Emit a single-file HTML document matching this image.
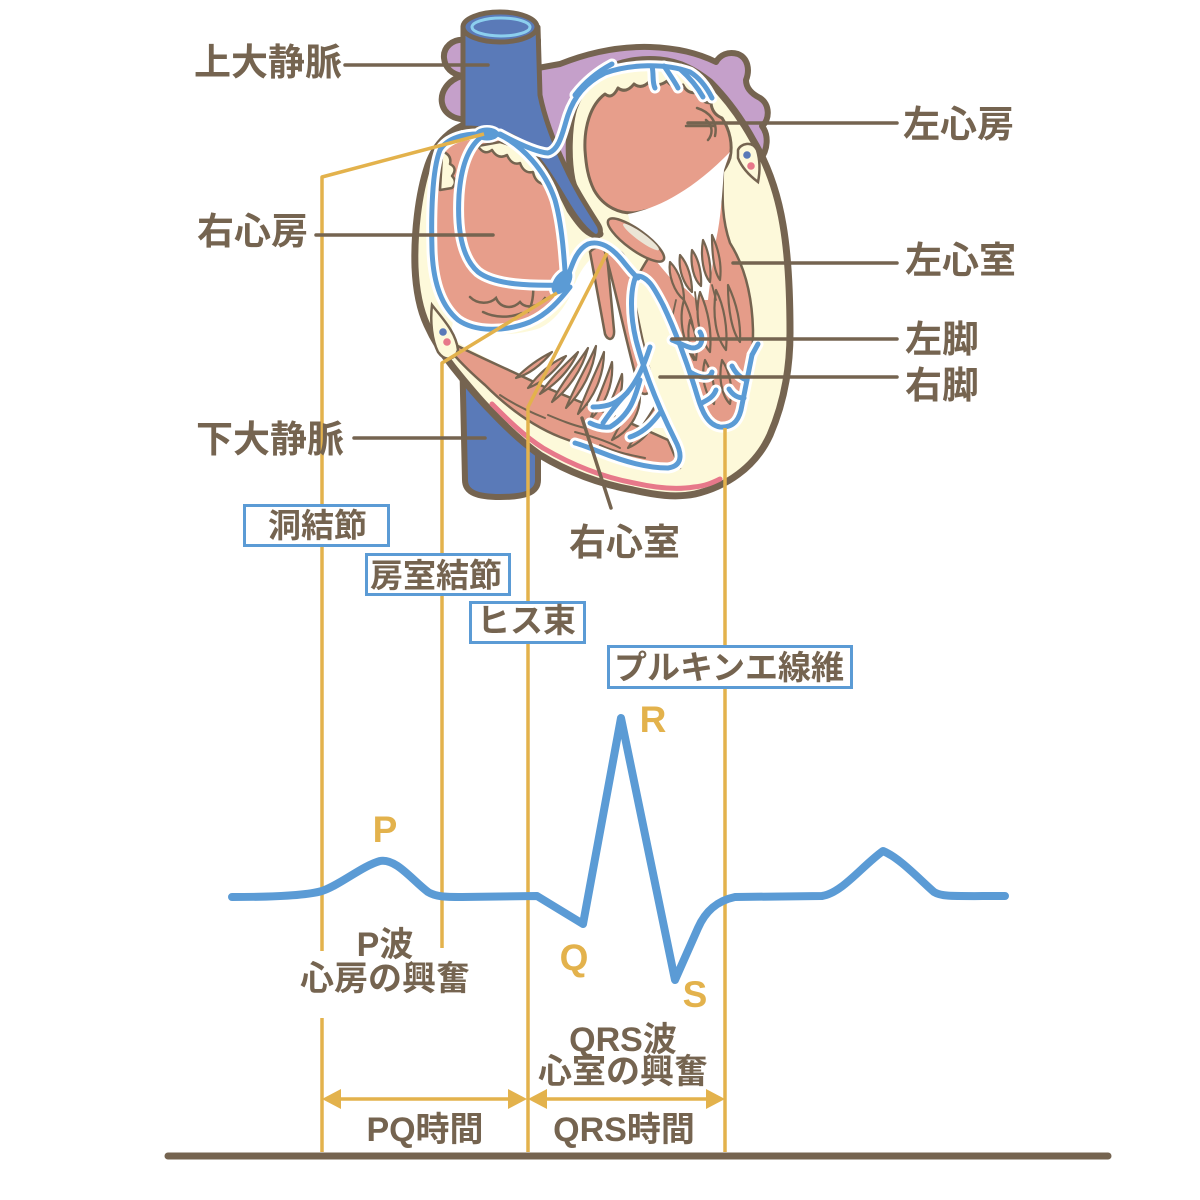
<!DOCTYPE html>
<html><head><meta charset="utf-8">
<style>
html,body{margin:0;padding:0;background:#fff;}
svg{display:block;}
text{font-family:"Liberation Sans","Noto Sans CJK JP",sans-serif;font-weight:700;}
.lbl{font-size:37px;fill:#756450;}
.box{font-size:33px;fill:#756450;}
.ecg{font-size:34px;fill:#756450;}
.ltr{font-size:37px;fill:#e3b24c;}
</style></head>
<body>
<svg width="1200" height="1200" viewBox="0 0 1200 1200" xmlns="http://www.w3.org/2000/svg">
<rect width="1200" height="1200" fill="#fff"/>

<!-- purple back -->
<path d="M466,40 C452,38 443,48 444,58 C445,68 452,74 462,76 C448,80 440,92 442,103 C444,114 455,120 466,119 L470,125 L540,150 L600,236 L760,160 C768,150 769,135 762,126 C770,120 770,104 760,98 C752,94 746,88 746,80 C750,70 748,58 738,54 C728,51 720,55 716,62 C700,54 680,48 650,47 C615,46 585,54 560,64 L538,68 L538,40 Z" fill="#c5a0ca" stroke="#756450" stroke-width="6" stroke-linejoin="round"/>

<!-- IVC -->
<path d="M462,350 L465,480 C465,493 478,497 500,497 C524,497 538,493 538,480 L538,410 Z" fill="#5a7ab8" stroke="#756450" stroke-width="6" stroke-linejoin="round"/>

<!-- heart body -->
<path d="M470,123 C452,128 436,142 428,165 C418,195 414,235 415,267 C416,290 420,310 427,325 C435,343 445,357 453,367 C465,382 478,398 490,410 C505,426 522,442 540,455 C568,472 600,484 633,490 C655,495 675,498 695,494 C725,487 755,468 770,435 C783,405 790,370 790,333 C790,300 789,260 783,225 C778,195 768,165 753,140 C742,120 728,100 710,82 C695,70 680,62 660,60 C640,58 620,62 605,70 C590,78 580,92 574,108 C568,128 568,160 572,180 C577,200 588,220 600,234 C590,238 580,225 570,210 C560,190 548,165 530,148 C515,135 495,126 470,123 Z" fill="#fdf9da" stroke="#756450" stroke-width="7" stroke-linejoin="round"/>

<!-- SVC -->
<path d="M463,27 L463,128 C480,128 500,130 515,138 C535,150 550,175 562,195 C572,212 582,228 594,236 C601,238 602,230 598,224 C588,208 576,190 566,168 C555,145 545,120 540,95 L538,27 Z" fill="#5a7ab8" stroke="#756450" stroke-width="5" stroke-linejoin="round"/>
<ellipse cx="500" cy="27" rx="37" ry="15" fill="#5a7ab8" stroke="#756450" stroke-width="5"/>
<ellipse cx="501" cy="27" rx="29" ry="9" fill="#5a7ab8" stroke="#8ccfee" stroke-width="3"/>

<!-- Right atrium pink -->
<path d="M483,138 C465,138 447,144 440,160 C433,185 433,235 435,265 C438,290 449,312 466,322 C486,332 515,330 535,320 C550,312 562,300 570,287 C568,265 568,240 562,212 C555,185 540,160 520,146 C510,140 497,138 483,138 Z" fill="#e79e8b"/>
<!-- scallops RA -->
<path d="M478,146 Q484,156 492,150 Q498,160 507,155 Q512,166 520,163 Q524,174 533,172 Q535,182 543,184 L548,178 C540,160 522,148 500,142 Z" fill="#fdf9da" stroke="#756450" stroke-width="2.5" stroke-linejoin="round"/>
<path d="M444,152 Q452,156 450,164 Q458,168 452,176 Q458,182 452,188 L440,190 L442,155 Z" fill="#fdf9da" stroke="#756450" stroke-width="2.5" stroke-linejoin="round"/>
<!-- tricuspid folds -->
<g fill="none" stroke="#756450" stroke-width="2.5" stroke-linecap="round">
<path d="M470,297 C478,305 490,304 496,298 C500,308 512,310 520,302 C526,310 540,306 545,298"/>
<path d="M483,312 C495,318 510,318 522,313"/>
<path d="M533,283 C534,295 532,305 528,312"/>
</g>

<!-- Left atrium pink -->
<path d="M585,150 C584,128 590,105 605,94 Q612,100 618,88 Q626,94 634,84 Q642,90 650,81 Q658,88 667,81 Q674,90 683,85 Q688,95 698,92 Q701,103 711,103 Q712,114 722,118 C730,130 733,145 730,158 C726,170 718,178 708,185 C692,196 668,206 640,212 C620,216 603,206 594,190 C588,178 586,165 585,150 Z" fill="#e79e8b" stroke="#756450" stroke-width="3" stroke-linejoin="round"/>
<g fill="none" stroke="#756450" stroke-width="2.5" stroke-linecap="round">
<path d="M697,108 C710,112 718,122 715,136"/>
<path d="M706,120 C713,126 713,134 708,140"/>
<path d="M686,126 L715,126"/>
</g>

<!-- LV myocardium -->
<path d="M640,272 C650,255 660,235 700,212 L723,168 C722,200 722,220 730,243 C742,262 752,290 753,330 C753,370 748,400 740,420 C735,430 722,432 712,426 C703,418 699,405 695,390 C686,360 672,320 656,295 Z" fill="#e59c89" stroke="#756450" stroke-width="2.5" stroke-linejoin="round"/>
<!-- LV cavity white -->
<path d="M628,214 C655,209 690,193 730,152 L724,170 C722,195 721,218 716,240 C713,262 710,282 708,300 L696,300 C690,292 682,285 672,280 C662,268 648,252 632,230 Z" fill="#ffffff"/>
<!-- LV trabeculae / papillary -->
<g fill="#e59c89" stroke="#756450" stroke-width="2.2" stroke-linejoin="round">
<path d="M670,262 C668,275 674,292 684,300 C684,288 680,272 670,262 Z"/>
<path d="M680,255 C678,270 684,285 692,292 C692,278 688,264 680,255 Z"/>
<path d="M692,250 C690,265 694,280 701,286 C702,272 698,258 692,250 Z"/>
<path d="M703,240 C700,258 704,275 710,282 C712,266 708,250 703,240 Z"/>
<path d="M712,235 C712,255 714,272 720,280 C722,264 718,248 712,235 Z"/>
<path d="M684,300 C678,320 684,345 694,360 C697,340 693,318 684,300 Z"/>
<path d="M700,292 C694,315 700,340 710,352 C712,330 708,310 700,292 Z"/>
<path d="M716,290 C712,315 716,338 726,350 C728,328 724,306 716,290 Z"/>
<path d="M728,285 C728,310 732,332 740,342 C741,322 736,302 728,285 Z"/>
<path d="M705,360 C700,378 706,395 714,404 C716,388 712,372 705,360 Z"/>
<path d="M722,360 C718,378 722,396 730,404 C733,388 730,372 722,360 Z"/>
<path d="M690,320 C686,335 690,352 696,360 C698,346 696,332 690,320 Z"/>
</g>
<g fill="none" stroke="#756450" stroke-width="1.8" stroke-linecap="round">
<path d="M676,300 L672,318"/><path d="M695,292 L697,310"/><path d="M712,285 L716,300"/>
</g>
<!-- mitral leaflet -->
<ellipse cx="636" cy="240" rx="34" ry="10" transform="rotate(36 636 240)" fill="#e79e8b" stroke="#756450" stroke-width="2.5"/>
<ellipse cx="641" cy="237" rx="22" ry="4" transform="rotate(36 641 237)" fill="#ebe5d6"/>

<!-- RV cavity white -->
<path d="M453,322 C475,336 510,338 540,328 C556,320 566,305 572,292 C578,272 590,256 603,250 L612,255 C617,290 628,335 645,375 C652,392 660,410 667,428 L640,428 C600,415 560,398 530,380 C500,365 470,350 450,338 Z" fill="#ffffff"/>
<!-- RV myocardium band -->
<path d="M450,342 C480,358 515,372 540,385 C580,402 625,420 668,440 L680,468 C640,466 600,452 560,437 C530,425 505,405 485,385 C470,372 458,360 450,350 Z" fill="#e59c89" stroke="#756450" stroke-width="2.5" stroke-linejoin="round"/>
<!-- RV septal columns -->
<path d="M590,252 C596,245 604,246 607,255 L614,330 C615,340 608,342 605,334 Z" fill="#e79e8b" stroke="#756450" stroke-width="2.5"/>
<path d="M605,252 C614,246 624,250 628,265 C634,300 642,340 650,372 C654,390 648,398 640,392 C628,350 618,300 605,252 Z" fill="#e79e8b" stroke="#756450" stroke-width="2.5"/>
<!-- RV trabeculae -->
<g fill="#e59c89" stroke="#756450" stroke-width="2.2" stroke-linejoin="round">
<path d="M528,388 C540,372 552,362 566,356 C556,370 544,382 528,388 Z"/>
<path d="M540,394 C552,376 566,364 578,352 C570,370 556,384 540,394 Z"/>
<path d="M552,402 C562,382 576,366 588,348 C582,370 568,390 552,402 Z"/>
<path d="M566,408 C574,388 586,368 596,346 C594,370 582,392 566,408 Z"/>
<path d="M578,414 C586,392 596,372 604,352 C604,376 594,398 578,414 Z"/>
<path d="M590,420 C598,398 606,380 612,362 C614,386 604,406 590,420 Z"/>
<path d="M600,426 C610,404 616,390 622,374 C624,396 614,414 600,426 Z"/>
<path d="M516,378 C528,366 540,358 552,352 C542,364 530,374 516,378 Z"/>
<path d="M612,440 C622,420 632,406 640,396 C640,416 628,432 612,440 Z"/>
<path d="M628,448 C640,428 650,416 656,404 C658,424 646,440 628,448 Z"/>
</g>
<g fill="none" stroke="#756450" stroke-width="2" stroke-linecap="round">
<path d="M548,415 C560,420 572,425 585,428"/>
<path d="M575,432 C590,436 605,440 620,448"/>
<path d="M600,445 C615,452 630,455 645,458"/>
<path d="M500,395 C515,405 530,412 545,418"/>
</g>

<!-- red stripe -->
<path d="M492,404 C508,420 524,436 543,448 C572,465 602,477 634,483 C656,488 676,490 694,487 C705,486 712,483 720,479" fill="none" stroke="#e7788a" stroke-width="5" stroke-linecap="round"/>

<!-- coronary vessels -->
<path d="M432,305 C442,318 456,332 458,350 C455,360 445,362 438,352 C432,340 430,322 432,305 Z" fill="#fdf9da" stroke="#756450" stroke-width="2.5"/>
<circle cx="443" cy="332" r="3.8" fill="#5a7ab8"/>
<circle cx="447" cy="342" r="3.8" fill="#e7788a"/>
<path d="M738,150 C740,144 752,140 757,150 C760,160 760,172 758,182 C750,176 742,168 738,158 Z" fill="#fdf9da" stroke="#756450" stroke-width="2.5"/>
<circle cx="747" cy="155" r="3.8" fill="#5a7ab8"/>
<circle cx="751" cy="166" r="3.8" fill="#e7788a"/>

<!-- conduction system: white halo -->
<g fill="none" stroke="#ffffff" stroke-width="11" stroke-linecap="round" stroke-linejoin="round">
<path d="M483,134 C465,133 447,138 440,150 C432,170 431,215 432,250 C433,280 440,305 458,320 C475,332 505,332 530,322 C548,314 560,300 570,287"/>
<path d="M480,138 C468,148 461,168 459,195 C457,230 462,258 478,272 C495,285 530,286 565,285"/>
<path d="M498,134 C522,145 545,170 555,200 C562,225 564,255 566,285"/>
<path d="M500,134 C515,142 535,152 548,153 C560,150 563,130 568,115 C574,97 585,83 605,73 C630,64 665,63 690,72 C700,78 707,88 712,98"/>
<path d="M652,66 C654,75 652,82 655,88"/><path d="M664,66 C670,75 675,82 678,88"/><path d="M680,69 C690,78 698,88 703,97"/><path d="M575,95 C585,82 597,72 612,64"/>
<path d="M566,282 C572,265 576,250 588,244 C600,240 612,248 622,260 C630,270 634,275 638,278"/>
<path d="M636,276 C630,290 630,315 636,340 C645,375 660,410 675,440 C683,455 682,466 668,468 C645,468 620,460 600,452 C590,448 582,445 575,443"/>
<path d="M636,276 C648,275 655,290 663,305 C675,330 688,365 697,395 C702,412 708,425 720,427 C735,428 740,418 742,405 C746,385 749,370 752,355"/>
<path d="M650,347 C645,362 640,377 627,393 C618,402 610,407 593,407"/>
<path d="M627,393 C620,400 612,410 603,423"/>
<path d="M640,380 C635,398 630,415 610,427 C602,428 596,426 590,423"/>
<path d="M660,413 C653,422 645,432 630,437"/>
<path d="M672,340 C685,345 693,352 700,345 C703,340 702,335 700,332"/>
<path d="M690,372 C700,378 710,380 712,372"/>
<path d="M700,404 C707,400 713,398 716,390"/>
<path d="M747,380 C740,378 735,372 732,366"/>
<path d="M744,398 C737,398 732,394 729,389"/>
<path d="M752,355 L758,344"/>
</g>
<ellipse cx="487" cy="134" rx="15" ry="9" fill="#ffffff"/>
<ellipse cx="562" cy="282" rx="11" ry="17" transform="rotate(35 562 282)" fill="#ffffff"/>
<!-- conduction system: blue -->
<g fill="none" stroke="#5b9bd5" stroke-width="5" stroke-linecap="round" stroke-linejoin="round">
<path d="M483,134 C465,133 447,138 440,150 C432,170 431,215 432,250 C433,280 440,305 458,320 C475,332 505,332 530,322 C548,314 560,300 570,287"/>
<path d="M480,138 C468,148 461,168 459,195 C457,230 462,258 478,272 C495,285 530,286 565,285"/>
<path d="M498,134 C522,145 545,170 555,200 C562,225 564,255 566,285"/>
<path d="M500,134 C515,142 535,152 548,153 C560,150 563,130 568,115 C574,97 585,83 605,73 C630,64 665,63 690,72 C700,78 707,88 712,98"/>
<path d="M652,66 C654,75 652,82 655,88"/><path d="M664,66 C670,75 675,82 678,88"/><path d="M680,69 C690,78 698,88 703,97"/><path d="M575,95 C585,82 597,72 612,64"/>
<path d="M566,282 C572,265 576,250 588,244 C600,240 612,248 622,260 C630,270 634,275 638,278"/>
<path d="M636,276 C630,290 630,315 636,340 C645,375 660,410 675,440 C683,455 682,466 668,468 C645,468 620,460 600,452 C590,448 582,445 575,443"/>
<path d="M636,276 C648,275 655,290 663,305 C675,330 688,365 697,395 C702,412 708,425 720,427 C735,428 740,418 742,405 C746,385 749,370 752,355"/>
<path d="M650,347 C645,362 640,377 627,393 C618,402 610,407 593,407"/>
<path d="M627,393 C620,400 612,410 603,423"/>
<path d="M640,380 C635,398 630,415 610,427 C602,428 596,426 590,423"/>
<path d="M660,413 C653,422 645,432 630,437"/>
<path d="M672,340 C685,345 693,352 700,345 C703,340 702,335 700,332"/>
<path d="M690,372 C700,378 710,380 712,372"/>
<path d="M700,404 C707,400 713,398 716,390"/>
<path d="M747,380 C740,378 735,372 732,366"/>
<path d="M744,398 C737,398 732,394 729,389"/>
<path d="M752,355 L758,344"/>
</g>
<ellipse cx="487" cy="134" rx="12" ry="6.5" fill="#5b9bd5"/>
<ellipse cx="562" cy="282" rx="8" ry="14" transform="rotate(35 562 282)" fill="#5b9bd5"/>

<!-- yellow lines -->
<g fill="none" stroke="#e3b24c" stroke-width="3.5" stroke-linejoin="round">
<path d="M484,134 L322,177 L322,951"/>
<path d="M322,1018 L322,1152"/>
<path d="M557,293 L442,363 L442,948"/>
<path d="M607,253 L528,407 L528,1152"/>
<path d="M725,428 L725,1152"/>
<path d="M340,1099 L510,1099"/>
<path d="M545,1099 L707,1099"/>
</g>
<g fill="#e3b24c">
<polygon points="322,1099 341,1089 341,1109"/>
<polygon points="527,1099 508,1089 508,1109"/>
<polygon points="528,1099 547,1089 547,1109"/>
<polygon points="725,1099 706,1089 706,1109"/>
</g>

<!-- label leader lines -->
<g stroke="#756450" stroke-width="3.5" fill="none" stroke-linecap="round">
<path d="M345,65 L488,65"/>
<path d="M316,235 L493,235"/>
<path d="M354,438 L485,438"/>
<path d="M688,123 L897,123"/>
<path d="M733,263 L897,263"/>
<path d="M672,339 L897,339"/>
<path d="M660,377 L897,377"/>
<path d="M582,418 L611,508"/>
</g>

<!-- labels -->
<text class="lbl" x="194" y="75">上大静脈</text>
<text class="lbl" x="197" y="244">右心房</text>
<text class="lbl" x="196" y="452">下大静脈</text>
<text class="lbl" x="903" y="137">左心房</text>
<text class="lbl" x="905" y="273">左心室</text>
<text class="lbl" x="905" y="352">左脚</text>
<text class="lbl" x="905" y="398">右脚</text>
<text class="lbl" x="569" y="555">右心室</text>

<!-- boxes -->
<g fill="#ffffff" stroke="#5b9bd5" stroke-width="3">
<rect x="244.5" y="505.5" width="144" height="40"/>
<rect x="366.5" y="554.5" width="143" height="40"/>
<rect x="470.5" y="602.5" width="114" height="40"/>
<rect x="608.5" y="646.5" width="243" height="41"/>
</g>
<text class="box" x="268" y="537">洞結節</text>
<text class="box" x="370" y="587">房室結節</text>
<text class="box" x="477" y="632">ヒス束</text>
<text class="box" x="614" y="679">プルキンエ線維</text>

<!-- ECG -->
<path d="M232,897 C270,897 305,896 322,891 C340,885 362,866 380,861 C396,858 412,880 428,892 C436,897 446,897 462,897 L537,896 L583,924 L621,718 L675,980 L698,928 C705,912 716,901 735,897 L822,896 C842,893 862,866 883,851 C900,858 920,880 934,892 C942,897 952,896 1005,896" fill="none" stroke="#5b9bd5" stroke-width="8" stroke-linecap="round" stroke-linejoin="round"/>

<text class="ltr" x="385" y="842" text-anchor="middle">P</text>
<text class="ltr" x="653" y="732" text-anchor="middle">R</text>
<text class="ltr" x="574" y="970" text-anchor="middle">Q</text>
<text class="ltr" x="695" y="1007" text-anchor="middle">S</text>

<text class="ecg" x="385" y="956" text-anchor="middle">P波</text>
<text class="ecg" x="385" y="990" text-anchor="middle">心房の興奮</text>
<text class="ecg" x="623" y="1051" text-anchor="middle">QRS波</text>
<text class="ecg" x="623" y="1083" text-anchor="middle">心室の興奮</text>
<text class="ecg" x="425" y="1141" text-anchor="middle">PQ時間</text>
<text class="ecg" x="624" y="1141" text-anchor="middle">QRS時間</text>

<!-- bottom bar -->
<line x1="168" y1="1156" x2="1108" y2="1156" stroke="#756450" stroke-width="7" stroke-linecap="round"/>
</svg>
</body></html>
